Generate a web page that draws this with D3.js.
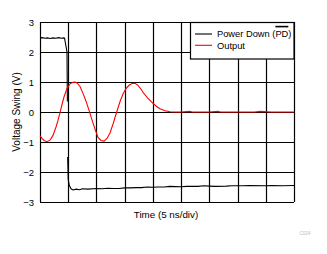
<!DOCTYPE html>
<html><head><meta charset="utf-8">
<script src="https://cdn.jsdelivr.net/npm/d3@7"></script>
<style>body{margin:0;background:#fff}svg{display:block}text{font-family:"Liberation Sans",Arial,sans-serif}</style>
</head><body>
<script>
// Time in ns (5 ns/div, 9 divisions), voltage in V
const yTicks = [3, 2, 1, 0, -1, -2, -3];
const xGrid = [0, 5, 10, 15, 20, 25, 30, 35, 40, 45];
const seriesNames = ["Power Down (PD)", "Output"];
const pdTime = [0,0.4,0.9,1.3,1.8,2.3,2.8,3.3,3.8,4.2,4.35,4.5,4.78,4.85,4.87,4.9,5.0,5.2,5.5,5.85,6.4,7.0,7.5,8.5,10,11,12,13,14,15,16,17,18,19,20,21,22,23,25,26,28,29,30,31,33,34,36,37,40,41,43,45];
const pdVolt = [2.47,2.48,2.46,2.47,2.45,2.47,2.46,2.48,2.46,2.47,2.46,2.3,2.0,0.35,null,-1.5,-2.25,-2.45,-2.56,-2.6,-2.57,-2.59,-2.56,-2.57,-2.55,-2.56,-2.54,-2.55,-2.55,-2.53,-2.53,-2.52,-2.52,-2.5,-2.51,-2.5,-2.5,-2.48,-2.49,-2.48,-2.48,-2.46,-2.47,-2.48,-2.47,-2.46,-2.46,-2.45,-2.46,-2.45,-2.46,-2.45];
const outTime = [0,0.35,0.71,1.24,1.77,2.3,2.84,3.19,3.54,3.9,4.25,4.78,5.32,5.85,6.2,6.56,7.09,7.62,8.15,8.68,9.21,9.75,10.28,10.81,11.34,11.87,12.4,12.94,13.59,14.18,14.71,15.24,15.77,16.3,16.83,17.36,17.89,18.43,19.13,19.84,20.55,21.26,22.15,23.04,23.92,25,26.5,27,28,30,31.5,32,34,36,38,39,41,43,45];
const outVolt = [-0.79,-0.88,-0.95,-0.99,-0.94,-0.78,-0.5,-0.28,-0.02,0.25,0.5,0.78,0.94,0.99,1.0,0.97,0.85,0.62,0.36,0.06,-0.26,-0.57,-0.85,-0.95,-0.97,-0.88,-0.7,-0.4,0.0,0.35,0.6,0.78,0.89,0.95,0.96,0.89,0.76,0.61,0.45,0.32,0.2,0.11,0.04,0.01,0.0,0.0,0.02,0.0,0.0,0.0,0.02,0.0,0.0,0.0,0.0,0.02,0.0,0.0,0.0];

const W = 327, H = 254;
const m = {l: 40, r: 33, t: 22, b: 52};
const svg = d3.select("body").append("svg").attr("width", W).attr("height", H);
const x = d3.scaleLinear().domain([0, 45]).range([m.l, W - m.r]);
const y = d3.scaleLinear().domain([-3, 3]).range([H - m.b, m.t]);

const g = svg.append("g");
g.selectAll("line.v").data(xGrid).join("line")
  .attr("x1", d => Math.round(x(d)) + 0.5).attr("x2", d => Math.round(x(d)) + 0.5)
  .attr("y1", y(3)).attr("y2", y(-3)).attr("stroke", "#000").attr("stroke-width", 1.2);
g.selectAll("line.h").data(yTicks).join("line")
  .attr("y1", d => Math.round(y(d)) + 0.5).attr("y2", d => Math.round(y(d)) + 0.5)
  .attr("x1", x(0)).attr("x2", x(45)).attr("stroke", "#000").attr("stroke-width", 1.2);

const ya = svg.append("g").attr("transform", `translate(${m.l},0)`)
  .call(d3.axisLeft(y).tickValues(yTicks).tickSize(0).tickPadding(6).tickFormat(d3.format("d")));
ya.select(".domain").remove();
ya.selectAll("text").attr("font-size", 9.5).attr("font-family", '"Liberation Sans",Arial,sans-serif').attr("fill", "#000");

const line = d3.line().defined(d => d[1] !== null).x(d => x(d[0])).y(d => y(d[1]));
const pdData = pdTime.map((t, i) => [t, pdVolt[i]]);
const outData = outTime.map((t, i) => [t, outVolt[i]]);
svg.append("path").datum(pdData).attr("d", line).attr("fill", "none").attr("stroke", "#000").attr("stroke-width", 1.1);
svg.append("path").datum(outData).attr("d", line).attr("fill", "none").attr("stroke", "#f00").attr("stroke-width", 1.1);

// legend
const fs = 9.3;
const lg = svg.append("g");
lg.append("rect").attr("x", 190.5).attr("y", 22.5).attr("width", x(45) - 190.5).attr("height", 36.5)
  .attr("fill", "#fff").attr("stroke", "#000").attr("stroke-width", 1.2);
const colors = ["#000", "#f00"];
function measure(s) {
  const t = svg.append("text").attr("font-size", fs).text(s);
  const w = t.node().getComputedTextLength();
  t.remove();
  return w;
}
seriesNames.forEach((n, i) => {
  const yy = 34 + i * 11.3;
  lg.append("line").attr("x1", 195).attr("x2", 212).attr("y1", yy).attr("y2", yy).attr("stroke", colors[i]).attr("stroke-width", 1.1);
  lg.append("text").attr("x", 217).attr("y", yy + 3.3).attr("font-size", fs).attr("fill", "#000").text(n);
  if (i === 0) {
    const x1 = 217 + measure("Power Down (");
    const x2 = 217 + measure("Power Down (PD");
    lg.append("rect").attr("x", x1).attr("y", 25.8).attr("width", x2 - x1).attr("height", 1.6).attr("fill", "#000");
  }
});

svg.append("text").attr("x", 16).attr("y", y(0)).attr("transform", `rotate(-90,16,${y(0)})`)
  .attr("text-anchor", "middle").attr("dy", "0.35em").attr("font-size", 10).text("Voltage Swing (V)");
svg.append("text").attr("x", (x(0) + x(45)) / 2 - 1).attr("y", 218).attr("text-anchor", "middle")
  .attr("font-size", 9.8).text("Time (5 ns/div)");
svg.append("text").attr("x", 305).attr("y", 235).attr("text-anchor", "middle")
  .attr("font-size", 4.5).attr("fill", "#bbb").text("C024");
</script>
</body></html>
